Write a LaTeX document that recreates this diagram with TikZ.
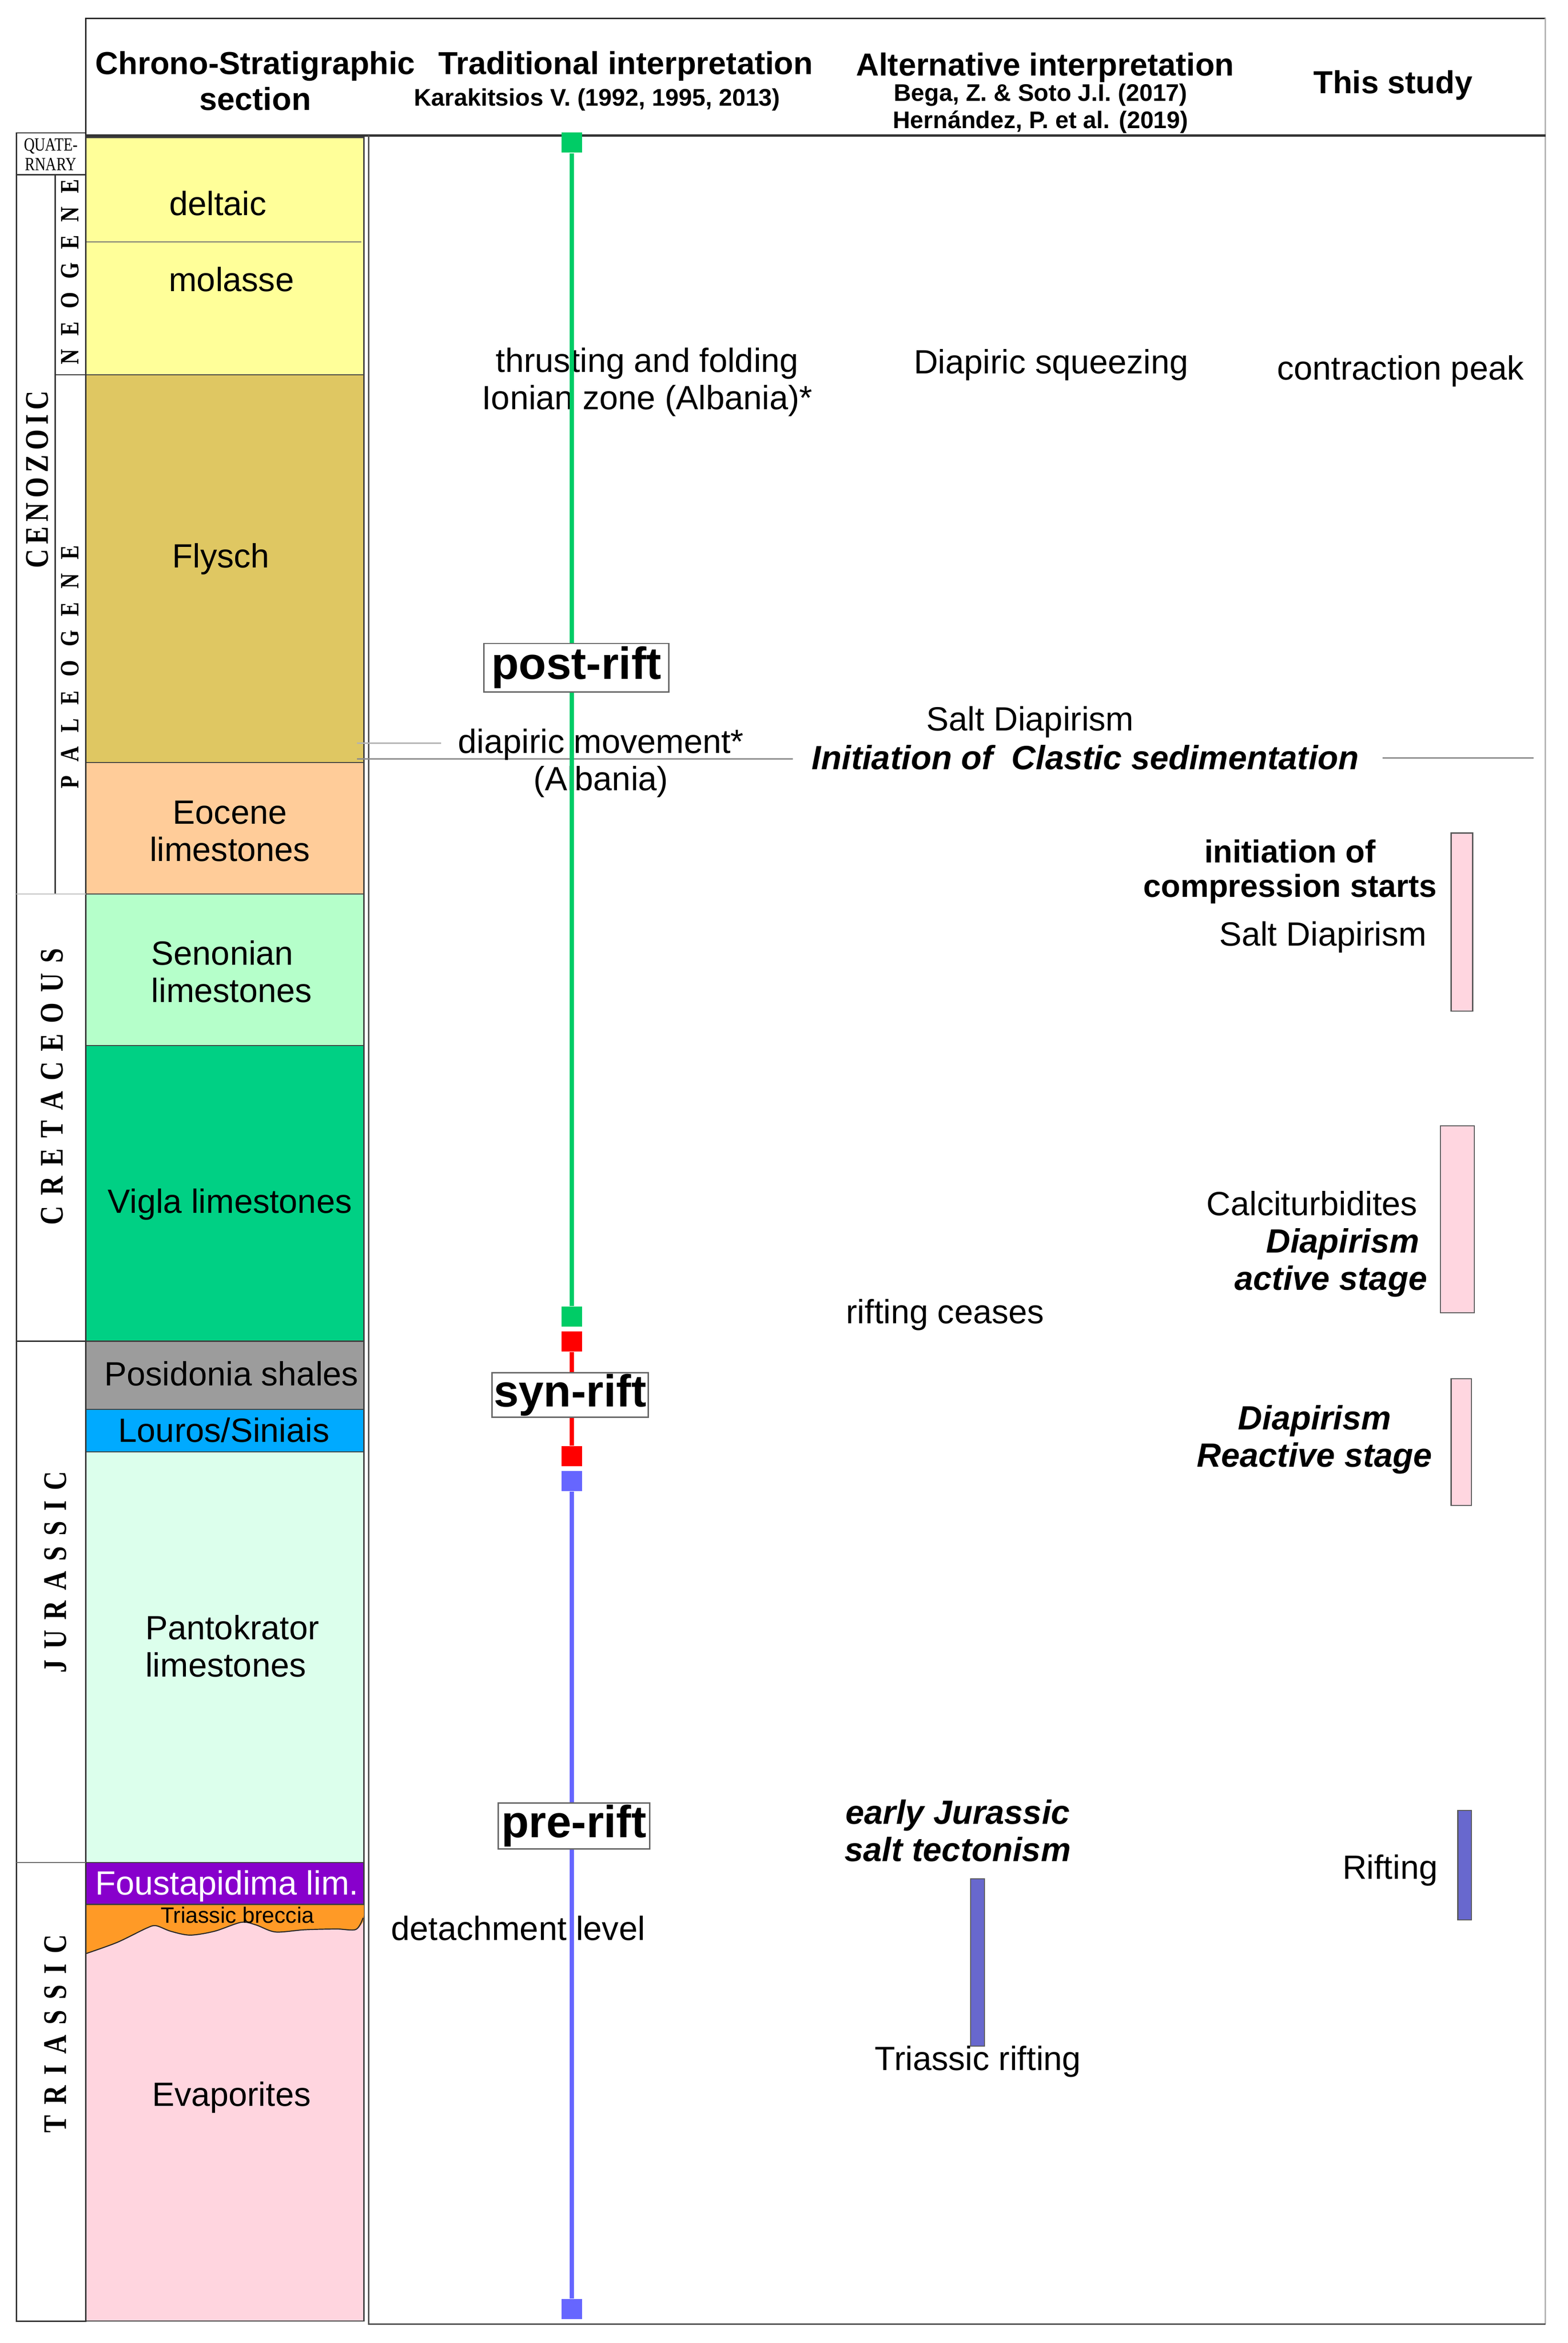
\documentclass[tikz,border=0pt]{standalone}
\usepackage{fontspec}
\setmainfont{Liberation Sans}
\newfontfamily\erafont{Liberation Serif}[FakeStretch=0.8]
\usepackage{tikz}

\newcommand\bodyfont{\fontsize{11.2}{12.45}\selectfont}
\newcommand\headfont{\bfseries\fontsize{10.6}{12}\selectfont}
\newcommand\citefont{\bfseries\fontsize{8}{9}\selectfont}
\newcommand\phasefont{\bfseries\fontsize{15}{17}\selectfont}
\newcommand\brecciafont{\fontsize{7.4}{8}\selectfont}
\newcommand\erasize[2]{\bfseries\fontsize{#1}{#1}\selectfont\spaceskip=#2\relax}

\begin{document}
\begin{tikzpicture}[x=0.4976pt, y=-0.4976pt,
    layer/.style={draw=black!75, line width=0.4pt},
    lbl/.style={font=\bodyfont, inner sep=0pt, align=center, text depth=0pt},
    era/.style={rotate=90, inner sep=0pt, font=\erafont},
    phase/.style={draw=black!60, fill=white, line width=0.45pt, inner sep=0pt, font=\phasefont},
    riftsq/.style={rectangle, fill=#1, minimum width=6.8pt, minimum height=6.7pt, inner sep=0pt},
    riftline/.style={draw=#1, line width=1.45pt},
    stagebar/.style={fill=#1, draw=black!65, line width=0.35pt}]
    \definecolor{deltaicyellow}{HTML}{FFFF99}
    \definecolor{flyschgold}{HTML}{DFC762}
    \definecolor{eoceneorange}{HTML}{FFCC99}
    \definecolor{senoniangreen}{HTML}{B5FFCA}
    \definecolor{viglagreen}{HTML}{00D084}
    \definecolor{posidoniagray}{HTML}{9C9C9C}
    \definecolor{lourosblue}{HTML}{00AAFF}
    \definecolor{pantomint}{HTML}{DCFFEC}
    \definecolor{foustapurple}{HTML}{8800CC}
    \definecolor{brecciaorange}{HTML}{FF9A26}
    \definecolor{evaporitepink}{HTML}{FFD5DF}
    \definecolor{postgreen}{HTML}{00CC66}
    \definecolor{synred}{HTML}{FF0000}
    \definecolor{preblue}{HTML}{6666FF}
    \definecolor{barpink}{HTML}{FFD6E0}
    \definecolor{barblue}{HTML}{6868CE}

    \useasboundingbox (0,0) rectangle (1050.1,1568.7);

    % the stratigraphic column
    \filldraw[layer, fill=deltaicyellow] (57.5,92) rectangle (243.8,251);
    \draw[black!55, line width=0.35pt] (58,162) -- (242,162);
    \filldraw[layer, fill=flyschgold] (57.5,251) rectangle (243.8,510.5);
    \filldraw[layer, fill=eoceneorange] (57.5,510.5) rectangle (243.8,598.5);
    \filldraw[layer, fill=senoniangreen] (57.5,598.5) rectangle (243.8,700);
    \filldraw[layer, fill=viglagreen] (57.5,700) rectangle (243.8,898);
    \filldraw[layer, fill=posidoniagray] (57.5,898) rectangle (243.8,943.5);
    \filldraw[layer, fill=lourosblue] (57.5,943.5) rectangle (243.8,972);
    \filldraw[layer, fill=pantomint] (57.5,972) rectangle (243.8,1247);
    \filldraw[layer, fill=foustapurple] (57.5,1247) rectangle (243.8,1275);
    \filldraw[layer, fill=evaporitepink] (57.5,1275) rectangle (243.8,1554);

    % Triassic breccia (wavy base)
    \fill[brecciaorange] (57.5,1275) -- (243.8,1275) -- (243.8,1282)
          -- plot[smooth] coordinates {(243.2,1286.5) (238.4,1291.8) (225.3,1291.5)
             (204,1292) (184.5,1293.5) (171.5,1288.8) (161.6,1287) (143.7,1293)
             (127.3,1295.6) (114.3,1293) (104.5,1289.3) (98,1291) (78.4,1300.5) (57.5,1308)}
          -- cycle;
    \draw[black!85, line width=0.35pt] plot[smooth] coordinates {(243.2,1284)
             (238.4,1291.8) (225.3,1291.5) (204,1292) (184.5,1293.5) (171.5,1288.8)
             (161.6,1287) (143.7,1293) (127.3,1295.6) (114.3,1293) (104.5,1289.3)
             (98,1291) (78.4,1300.5) (57.5,1308)};
    \draw[layer, fill=none] (57.5,1247) rectangle (243.8,1275);

    % era column
    \draw[black!80, line width=0.45pt] (11,89) rectangle (57.5,1554);
    \draw[black!80, line width=0.4pt] (11,117) -- (57.5,117);
    \draw[black!80, line width=0.4pt] (37,117) -- (37,598.5);
    \draw[black!80, line width=0.4pt] (37,251) -- (57.5,251);
    \draw[black!25, line width=0.4pt] (11,598.5) -- (57.5,598.5);
    \draw[black!80, line width=0.4pt] (11,898) -- (57.5,898);
    \draw[black!60, line width=0.4pt] (11,1247) -- (57.5,1247);

    % header and frame
    \draw[black!85, line width=0.5pt] (57.5,90.6) -- (57.5,12.2) -- (1035,12.2);
    \draw[black!30, line width=0.5pt] (1035,12.2) -- (1035,1556);
    \draw[black!80, line width=0.8pt] (57.5,90.6) -- (1035,90.6);
    \draw[black!70, line width=0.4pt] (247,90.6) -- (247,1556) -- (1035,1556);

    % thin guide lines at the Eocene base
    \draw[black!30, line width=0.4pt] (239,497.5) -- (295.5,497.5);
    \draw[black!45, line width=0.5pt] (239,508) -- (531,508);
    \draw[black!45, line width=0.5pt] (926,507.5) -- (1027,507.5);

    % stage bars
    \filldraw[stagebar=barblue] (650,1258) rectangle (659.3,1370);
    \filldraw[stagebar=barpink] (971.9,557.7) rectangle (986.3,677);
    \filldraw[stagebar=barpink] (964.8,753.8) rectangle (987.4,879);
    \filldraw[stagebar=barpink] (971.9,923) rectangle (985.5,1008);
    \filldraw[stagebar=barblue] (976.4,1212) rectangle (985.4,1285.5);

    % column headings
    \draw (171,54) node[lbl, font=\headfont] (chronohead) {Chrono-Stratigraphic\\section};
    \draw (419,42) node[lbl, font=\headfont] (tradhead) {Traditional interpretation};
    \draw (400,65) node[lbl, font=\citefont] (tradref) {Karakitsios V. (1992, 1995, 2013)};
    \draw (700,43) node[lbl, font=\headfont] (althead) {Alternative interpretation};
    \draw (697,71) node[lbl, font=\citefont] (altref) {Bega, Z. \& Soto J.I. (2017)\\Hernández, P. et al. (2019)};
    \draw (933,55) node[lbl, font=\headfont] (thishead) {This study};

    % eras and periods
    \draw (34,103.5) node[lbl, font={\erafont\fontsize{6.2}{6.5}\selectfont}] (quaternary) {QUATE-\\RNARY};
    \draw (47,182) node[era] (neogene) {\erasize{8.8}{4.4pt}N E O G E N E};
    \draw (25,321) node[era] (cenozoic) {\erasize{11}{1.6pt}C E N O Z O I C};
    \draw (47,446.5) node[era] (paleogene) {\erasize{8.8}{4.6pt}P A L E O G E N E};
    \draw (35,727.5) node[era] (cretaceous) {\erasize{11}{3.45pt}C R E T A C E O U S};
    \draw (37,1052.5) node[era] (jurassic) {\erasize{11}{3.45pt}J U R A S S I C};
    \draw (37,1361.5) node[era] (triassic) {\erasize{11}{3.5pt}T R I A S S I C};

    % formations
    \draw (146,136) node[lbl] (deltaic) {deltaic};
    \draw (155,187) node[lbl] (molasse) {molasse};
    \draw (148,372) node[lbl] (flysch) {Flysch};
    \draw (154,556.5) node[lbl] (eocene) {Eocene\\limestones};
    \draw (101,650.5) node[lbl, anchor=west, align=left] (senonian) {Senonian\\limestones};
    \draw (154,804) node[lbl] (vigla) {Vigla limestones};
    \draw (155,919.5) node[lbl] (posidonia) {Posidonia shales};
    \draw (150,957.5) node[lbl] (louros) {Louros/Siniais};
    \draw (97,1102) node[lbl, anchor=west, align=left] (pantokrator) {Pantokrator\\limestones};
    \draw (152,1260.5) node[lbl, text=white] (foustapidima) {Foustapidima lim.};
    \draw (159,1282) node[lbl, font=\brecciafont] (breccia) {Triassic breccia};
    \draw (155,1402) node[lbl] (evaporites) {Evaporites};

    % traditional interpretation
    \draw (433.5,253.5) node[lbl] (thrusting) {thrusting and folding\\Ionian zone (Albania)*};
    \draw (402.5,508.5) node[lbl] (diapiric) {diapiric movement*\\(Albania)};
    \draw (347,1291) node[lbl] (detachment) {detachment level};

    % alternative interpretation
    \draw (704,242) node[lbl] (squeezing) {Diapiric squeezing};
    \draw (690,481) node[lbl] (altdiapirism) {Salt Diapirism};
    \draw (727,507) node[lbl, font=\bodyfont\bfseries\itshape] (clastic) {Initiation of\ \ Clastic sedimentation};
    \draw (633,878) node[lbl] (riftceases) {rifting ceases};
    \draw (641.5,1225.5) node[lbl, font=\bodyfont\bfseries\itshape] (earlyjur) {early Jurassic\\salt tectonism};
    \draw (655,1378) node[lbl] (triasrift) {Triassic rifting};

    % this study
    \draw (938,246) node[lbl] (contraction) {contraction peak};
    \draw (864,581.5) node[lbl, font=\headfont] (compression) {initiation of\\[-0.5pt]compression starts};
    \draw (886,625) node[lbl] (studydiapirism) {Salt Diapirism};
    \draw (951,830.5) node[lbl, anchor=east, align=right] (calci) {Calciturbidites\hspace*{0.6pt}\\\textbf{\textit{Diapirism}}\hspace*{2pt}\\\textbf{\textit{active stage}}\hspace*{-2.6pt}};
    \draw (880.5,961.5) node[lbl, font=\bodyfont\bfseries\itshape] (reactive) {Diapirism\\Reactive stage};
    \draw (931,1250) node[lbl] (rifting) {Rifting};

    % rift phases
    \node[riftsq=postgreen] (posttop) at (383,95.5) {};
    \node[riftsq=postgreen] (postbase) at (383,881.5) {};
    \node[riftsq=synred] (syntop) at (383,898) {};
    \node[riftsq=synred] (synbase) at (383,975) {};
    \node[riftsq=preblue] (pretop) at (383,991.5) {};
    \node[riftsq=preblue] (prebase) at (383,1546) {};
    \draw[riftline=postgreen] (posttop) -- (postbase);
    \draw[riftline=synred] (syntop) -- (synbase);
    \draw[riftline=preblue] (pretop) -- (prebase);
    \draw (386,447) node[phase, minimum width=61.7pt, minimum height=16.1pt] (postrift) {post-rift};
    \draw (381.8,934) node[phase, minimum width=52pt, minimum height=14.8pt] (synrift) {syn-rift};
    \draw (384.4,1222.5) node[phase, minimum width=50.4pt, minimum height=15.4pt] (prerift) {pre-rift};
\end{tikzpicture}
\end{document}
